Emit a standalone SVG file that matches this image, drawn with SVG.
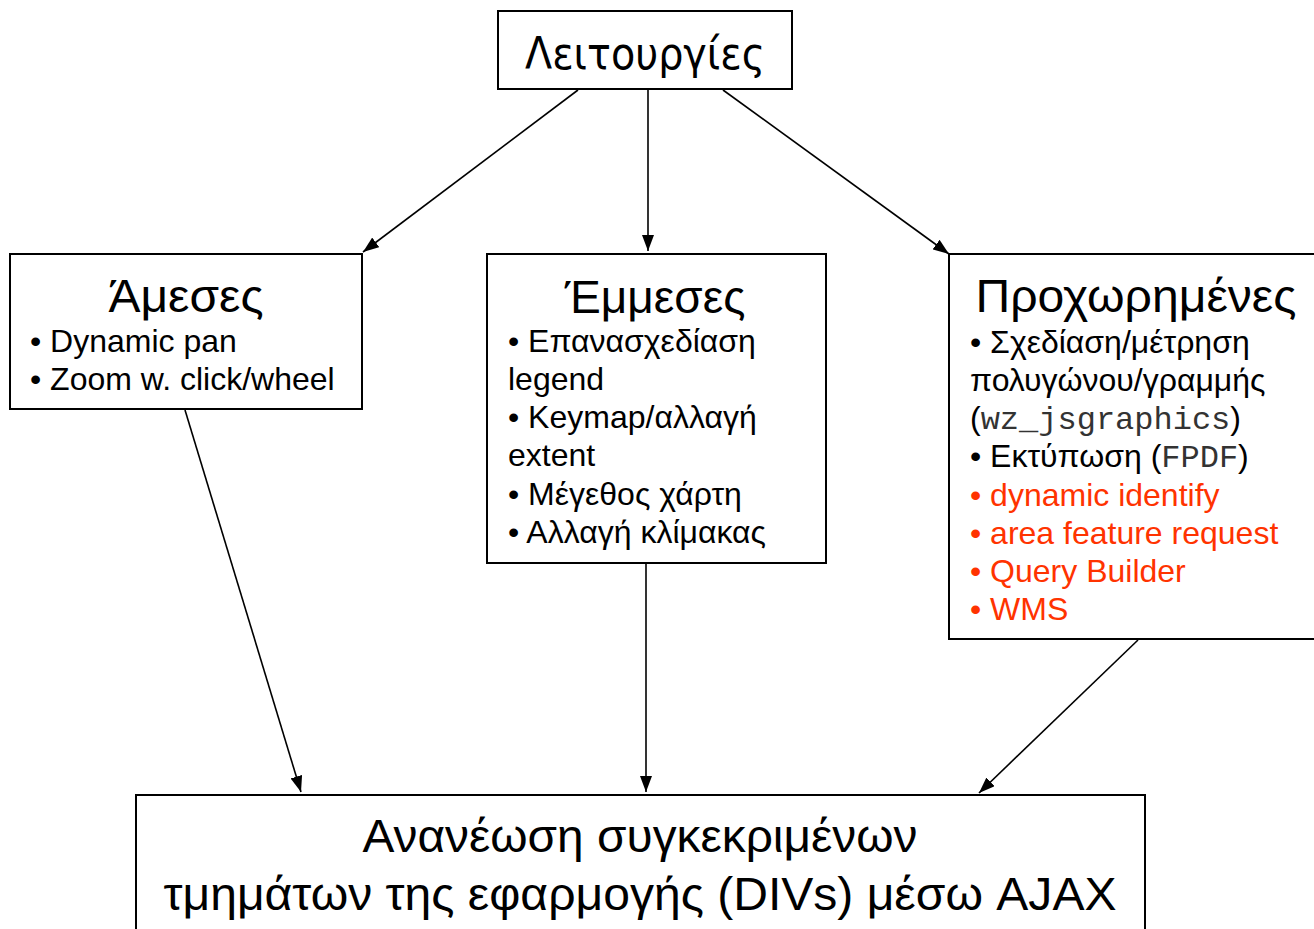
<svg xmlns="http://www.w3.org/2000/svg" width="1314" height="929" viewBox="0 0 1314 929">
<defs>
<marker id="ah" viewBox="0 0 16 12" refX="16" refY="6" markerWidth="16" markerHeight="12" markerUnits="userSpaceOnUse" orient="auto">
<path d="M0,0 L16,6 L0,12 Z" fill="#000"/>
</marker>
<style>
.box{fill:#fff;stroke:#000;stroke-width:2}
.t{font-family:"Liberation Sans",Arial,sans-serif;fill:#000}
.h{font-size:46px;text-anchor:middle}
.b{font-size:32px}
.r{fill:#ff3300}
.m{font-family:"Liberation Mono","Courier New",monospace;fill:#333}
.c{stroke:#000;stroke-width:1.6;fill:none;marker-end:url(#ah)}
</style>
</defs>
<rect width="1314" height="929" fill="#fff"/>
<g id="connectors">
<line class="c" x1="578" y1="90" x2="363" y2="252"/>
<line class="c" x1="648" y1="90" x2="648" y2="251"/>
<line class="c" x1="723" y1="90" x2="949" y2="254"/>
<line class="c" x1="185" y1="410" x2="301" y2="792"/>
<line class="c" x1="646" y1="564" x2="646" y2="792"/>
<line class="c" x1="1138" y1="640" x2="979" y2="793"/>
</g>
<g id="node-leitourgies">
<rect class="box" x="498" y="11" width="294" height="78"/>
<text x="645" y="69" font-family="DejaVu Sans,Verdana,sans-serif" font-size="44" text-anchor="middle" textLength="240" lengthAdjust="spacingAndGlyphs">Λειτουργίες</text>
</g>
<g id="node-ameses">
<rect class="box" x="10" y="254" width="352" height="155"/>
<text class="t h" x="186" y="312" textLength="155" lengthAdjust="spacingAndGlyphs">Άμεσες</text>
<text class="t b" x="30" y="352">• Dynamic pan</text>
<text class="t b" x="30" y="390">• Zoom w. click/wheel</text>
</g>
<g id="node-emmeses">
<rect class="box" x="487" y="254" width="339" height="309"/>
<text class="t h" x="655" y="313">Έμμεσες</text>
<text class="t b" x="508" y="352">• Επανασχεδίαση</text>
<text class="t b" x="508" y="390">legend</text>
<text class="t b" x="508" y="428">• Keymap/αλλαγή</text>
<text class="t b" x="508" y="466">extent</text>
<text class="t b" x="508" y="505">• Μέγεθος χάρτη</text>
<text class="t b" x="508" y="543">• Αλλαγή κλίμακας</text>
</g>
<g id="node-proxorimenes">
<rect class="box" x="949" y="254" width="370" height="385"/>
<text class="t h" x="1136" y="312" textLength="321" lengthAdjust="spacingAndGlyphs">Προχωρημένες</text>
<text class="t b" x="970" y="353">• Σχεδίαση/μέτρηση</text>
<text class="t b" x="970" y="391">πολυγώνου/γραμμής</text>
<text class="t b" x="970" y="429">(<tspan class="m">wz_jsgraphics</tspan>)</text>
<text class="t b" x="970" y="467">• Εκτύπωση (<tspan class="m">FPDF</tspan>)</text>
<text class="t b r" x="970" y="506">• dynamic identify</text>
<text class="t b r" x="970" y="544">• area feature request</text>
<text class="t b r" x="970" y="582">• Query Builder</text>
<text class="t b r" x="970" y="620">• WMS</text>
</g>
<g id="node-ananeosi">
<rect class="box" x="136" y="795" width="1009" height="150"/>
<text class="t" x="640" y="852" font-size="46" text-anchor="middle" textLength="555" lengthAdjust="spacingAndGlyphs">Ανανέωση συγκεκριμένων</text>
<text class="t" x="640" y="910" font-size="46" text-anchor="middle" textLength="953" lengthAdjust="spacingAndGlyphs">τμημάτων της εφαρμογής (DIVs) μέσω AJAX</text>
</g>
</svg>
